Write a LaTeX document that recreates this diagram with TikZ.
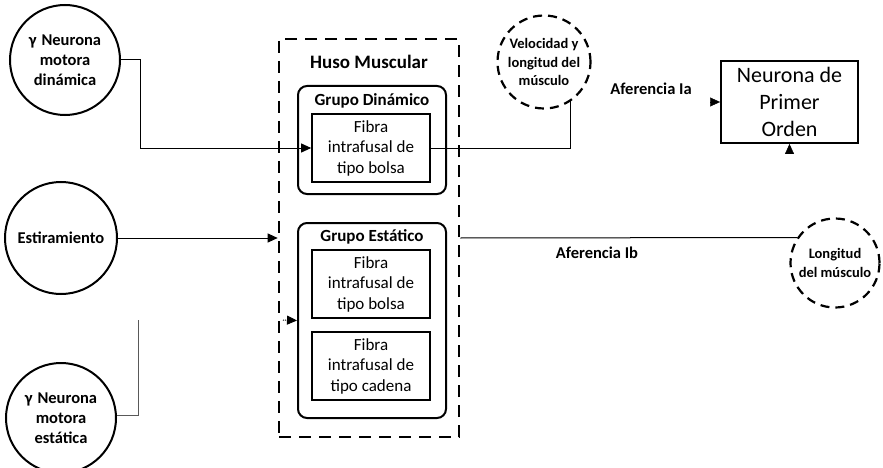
\documentclass[tikz,border=0pt]{standalone}
\usepackage{fontspec}
\setmainfont{Carlito}
\usetikzlibrary{arrows.meta}
\begin{document}
\begin{tikzpicture}[x=1pt,y=-1pt,
  circ/.style={circle,draw,line width=2pt,inner sep=-10pt,align=center,font=\bfseries\fontsize{16.5}{20}\selectfont},
  dcirc/.style={circle,draw,line width=2.2pt,dash pattern=on 9pt off 6pt,inner sep=-12pt,align=center,font=\bfseries\fontsize{14.5}{18.5}\selectfont},
  grp/.style={draw,rounded corners=9pt,line width=2pt,minimum width=148pt},
  fib/.style={draw,line width=1.7pt,minimum width=118pt,minimum height=68pt,align=center,inner sep=0pt,font=\fontsize{17}{20.5}\selectfont},
  lbl/.style={font=\bfseries\fontsize{16.5}{19}\selectfont},
  ttl/.style={font=\bfseries\fontsize{17}{19}\selectfont},
  conn/.style={line width=1pt},
  tip/.style={-{Triangle[length=10pt,width=9pt]}}]
\useasboundingbox (0,0) rectangle (883,468);
% left circles
\node[circ,minimum size=110pt] (dyn) at (65,60) {γ\hspace{5pt}Neurona\\motora\\dinámica};
\node[circ,minimum size=112pt] (est) at (61,238) {Estiramiento};
\node[circ,minimum size=110pt] (sta) at (61,418) {γ\hspace{5pt}Neurona\\motora\\estática};
% huso muscular
\node[draw,line width=2.6pt,dash pattern=on 12pt off 8pt,minimum width=180pt,minimum height=398pt] (huso) at (369,238) {};
\node[font=\bfseries\fontsize{19}{21}\selectfont] (tit) at (369,62) {Huso Muscular};
\node[grp,minimum height=108pt] (gdin) at (372,140) {};
\node[ttl] (tdin) at (372,101) {Grupo Dinámico};
\node[fib] (fdin) at (371,148) {Fibra\\intrafusal de\\tipo bolsa};
\node[grp,minimum height=195pt] (gest) at (372,320.5) {};
\node[ttl] (test) at (372,237) {Grupo Estático};
\node[fib] (fbol) at (371,284) {Fibra\\intrafusal de\\tipo bolsa};
\node[fib] (fcad) at (371,366) {Fibra\\intrafusal de\\tipo cadena};
% right side
\node[dcirc,minimum size=93pt] (vel) at (544,62) {Velocidad y\\longitud del\\músculo};
\node[draw,line width=1.9pt,minimum width=137pt,minimum height=82pt,align=center,inner sep=0pt,font=\fontsize{22}{27}\selectfont] (neu) at (789.5,102) {Neurona de\\Primer\\Orden};
\node[dcirc,minimum size=89pt] (lon) at (835,263) {Longitud\\del músculo};
\node[lbl] (ia) at (651,89) {Aferencia Ia};
\node[lbl] (ib) at (597,253) {Aferencia Ib};
% connectors
\coordinate (c1) at (140,60);
\draw[conn,tip] (dyn.east |- c1) -- (c1) |- (fdin.west);
\draw[conn] (fdin.east) -| (vel.-56);
\draw[conn,tip] (est.east) -- (est.east -| huso.west);
\coordinate (s1) at (138,415);
\coordinate (s2) at (138,320);
\draw[conn,line width=0.7pt,gray!70!black] (sta.east |- s1) -- (s1) -- (s2);
\coordinate (s3) at (283,320);
\draw[conn,tip,densely dotted] (s3) -- (gest.west);
\coordinate (a1) at (711,102);
\draw[tip] (a1) -- (neu.west);
\coordinate (a2) at (789.5,153);
\draw[tip] (a2) -- (neu.south);
\draw[conn] (huso.east |- 0,238) -- (lon.146);
\end{tikzpicture}
\end{document}
